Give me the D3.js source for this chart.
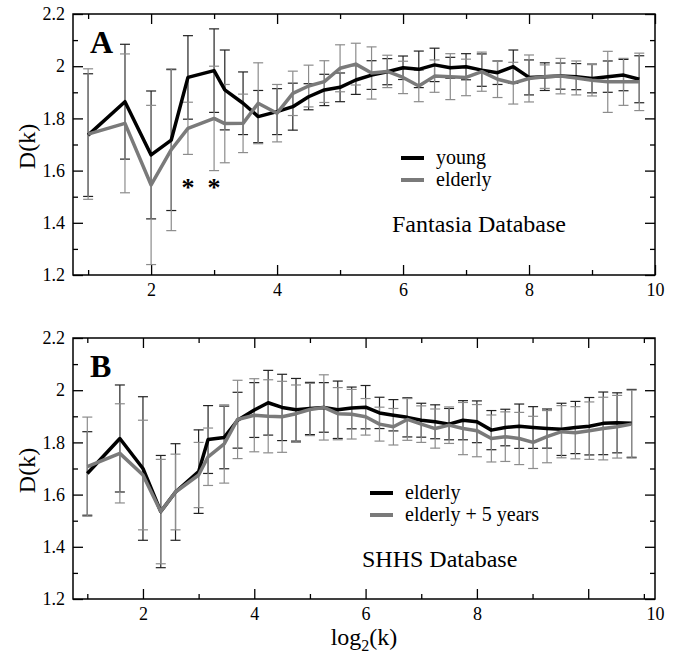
<!DOCTYPE html>
<html>
<head>
<meta charset="utf-8">
<script src="https://cdn.jsdelivr.net/npm/d3@7"></script>
<style>
    body { margin: 0; background: #fff; }
    svg { display: block; }
    text { font-family: "Liberation Serif", "Times New Roman", serif; fill: #000; }
</style>
</head>
<body>
<svg id="chart" width="673" height="653"></svg>
<script>
    "use strict";

    //Panel A - Fantasia database
    var xA = [1, 1.585, 2, 2.32, 2.585, 3, 3.17, 3.46, 3.7, 4, 4.25, 4.5, 4.75, 5, 5.25, 5.5, 5.75,
        6, 6.25, 6.5, 6.75, 7, 7.25, 7.5, 7.75, 8, 8.25, 8.5, 8.75, 9, 9.25, 9.5, 9.75];
    var youngMean = [1.736, 1.864, 1.66, 1.717, 1.957, 1.983, 1.909, 1.858, 1.807, 1.826, 1.845, 1.883, 1.909,
        1.919, 1.947, 1.966, 1.979, 1.994, 1.988, 2.005, 1.994, 1.998, 1.985, 1.975, 1.998, 1.957, 1.96,
        1.962, 1.96, 1.953, 1.96, 1.966, 1.95];
    var youngErr = [0.235, 0.22, 0.245, 0.27, 0.16, 0.16, 0.153, 0.12, 0.1, 0.088, 0.09, 0.05, 0.06,
        0.055, 0.055, 0.055, 0.05, 0.045, 0.07, 0.064, 0.04, 0.05, 0.062, 0.045, 0.064, 0.067, 0.053,
        0.05, 0.05, 0.055, 0.06, 0.06, 0.09];
    var elderlyMean = [1.74, 1.781, 1.545, 1.68, 1.762, 1.80, 1.78, 1.781, 1.858, 1.82, 1.896, 1.924, 1.941,
        1.992, 2.008, 1.974, 1.98, 1.957, 1.924, 1.962, 1.96, 1.957, 1.979, 1.95, 1.935, 1.953, 1.96,
        1.962, 1.955, 1.946, 1.94, 1.94, 1.94];
    var elderlyErr = [0.25, 0.266, 0.305, 0.31, 0.10, 0.2, 0.15, 0.112, 0.155, 0.11, 0.085, 0.08, 0.08,
        0.09, 0.08, 0.10, 0.062, 0.062, 0.06, 0.062, 0.088, 0.07, 0.075, 0.07, 0.08, 0.09, 0.045,
        0.068, 0.065, 0.06, 0.117, 0.09, 0.11];
    var starsA = [2.585, 3];

    //Panel B - SHHS database
    var xB = [1, 1.585, 2, 2.32, 2.585, 3, 3.17, 3.46, 3.7, 4, 4.25, 4.5, 4.75, 5, 5.25, 5.5, 5.75,
        6, 6.25, 6.5, 6.75, 7, 7.25, 7.5, 7.75, 8, 8.26, 8.51, 8.76, 9.01, 9.26, 9.52, 9.77, 10.02, 10.27, 10.52, 10.78];
    var shhsMean = [1.681, 1.815, 1.70, 1.535, 1.61, 1.688, 1.811, 1.819, 1.885, 1.924, 1.952, 1.934, 1.925,
        1.93, 1.934, 1.925, 1.932, 1.935, 1.913, 1.904, 1.896, 1.885, 1.879, 1.87, 1.885, 1.879, 1.847,
        1.857, 1.862, 1.857, 1.853, 1.85, 1.857, 1.862, 1.873, 1.875, 1.873];
    var shhsErr = [0.16, 0.205, 0.275, 0.215, 0.185, 0.16, 0.13, 0.12, 0.107, 0.105, 0.124, 0.127, 0.12,
        0.1, 0.095, 0.11, 0.08, 0.083, 0.06, 0.06, 0.075, 0.065, 0.065, 0.06, 0.075, 0.08, 0.075,
        0.07, 0.085, 0.08, 0.075, 0.1, 0.1, 0.11, 0.12, 0.115, 0.13];
    var shhs5Mean = [1.707, 1.758, 1.675, 1.535, 1.61, 1.675, 1.745, 1.794, 1.888, 1.904, 1.90, 1.898, 1.91,
        1.926, 1.934, 1.91, 1.908, 1.898, 1.87, 1.86, 1.888, 1.87, 1.853, 1.866, 1.853, 1.845, 1.815,
        1.822, 1.815, 1.80, 1.822, 1.841, 1.837, 1.845, 1.853, 1.86, 1.87];
    var shhs5Err = [0.19, 0.19, 0.21, 0.2, 0.145, 0.125, 0.11, 0.15, 0.15, 0.14, 0.14, 0.136, 0.11,
        0.1, 0.125, 0.1, 0.095, 0.07, 0.065, 0.07, 0.08, 0.07, 0.075, 0.07, 0.1, 0.1, 0.09,
        0.095, 0.1, 0.1, 0.1, 0.1, 0.1, 0.11, 0.12, 0.12, 0.13];

    //Ticks and labels
    var yMajor = [1.2, 1.4, 1.6, 1.8, 2, 2.2];
    var yMinor = [1.3, 1.5, 1.7, 1.9, 2.1];
    var yLabels = ["1.2", "1.4", "1.6", "1.8", "2", "2.2"];
    var xLabelPosA = [2, 4, 6, 8, 10];
    var xLabelPosB = [2, 4, 6, 8, 11.2];
    var xLabels = ["2", "4", "6", "8", "10"];

    var svg = d3.select("#chart");
    var left = 73, right = 655;
    var black = "#000", grey = "#7a7a7a";
    var serif = '"Liberation Serif", "Times New Roman", serif';

    function panel(p) {

        var g = svg.append("g");
        var x = d3.scaleLinear().domain(p.xDomain).range([left, right]);
        var y = d3.scaleLinear().domain([1.2, 2.2]).range([p.bottom, p.top]);

        var xMajor = d3.range(2, Math.floor(p.xDomain[1]) + 1, 2);
        var xMinor = d3.range(1, Math.floor(p.xDomain[1]) + 1, 2);

        //Inward ticks on all four sides
        function ticks(axis, vals, size, tr) {
            g.append("g").attr("transform", tr)
                .call(axis.tickValues(vals).tickSize(-size).tickFormat(""))
                .call(function (s) { s.select(".domain").remove(); })
                .selectAll("line").attr("stroke", "#000").attr("stroke-width", 1.3);
        }
        [[xMajor, 10], [xMinor, 5]].forEach(function (t) {
            ticks(d3.axisBottom(x), t[0], t[1], "translate(0," + p.bottom + ")");
            ticks(d3.axisTop(x), t[0], t[1], "translate(0," + p.top + ")");
        });
        [[yMajor, 10], [yMinor, 5]].forEach(function (t) {
            ticks(d3.axisLeft(y), t[0], t[1], "translate(" + left + ",0)");
            ticks(d3.axisRight(y), t[0], t[1], "translate(" + right + ",0)");
        });

        //Tick labels
        var ya = g.append("g").attr("transform", "translate(" + left + ",0)")
            .call(d3.axisLeft(y).tickValues(yMajor).tickSize(0).tickPadding(8)
                .tickFormat(function (d, i) { return yLabels[i]; }));
        var xa = g.append("g").attr("transform", "translate(0," + p.bottom + ")")
            .call(d3.axisBottom(x).tickValues(p.xLabelPos).tickSize(0).tickPadding(8)
                .tickFormat(function (d, i) { return xLabels[i]; }));
        [ya, xa].forEach(function (a) {
            a.select(".domain").remove();
            a.attr("font-family", serif).attr("font-size", 18);
            a.selectAll("text").style("font-family", serif).style("font-size", "18px");
        });

        //Error bars, black series first then grey on top
        p.series.forEach(function (s) {
            var bars = g.append("g").selectAll("g")
                .data(s.x.map(function (v, i) { return { x: v, m: s.mean[i], e: s.err[i] }; }))
                .join("g")
                .attr("stroke", s.barColour).attr("stroke-width", 1.2);
            bars.append("line")
                .attr("x1", function (d) { return x(d.x); }).attr("x2", function (d) { return x(d.x); })
                .attr("y1", function (d) { return y(d.m - d.e); }).attr("y2", function (d) { return y(d.m + d.e); });
            [-1, 1].forEach(function (sgn) {
                bars.append("line")
                    .attr("x1", function (d) { return x(d.x) - 5; }).attr("x2", function (d) { return x(d.x) + 5; })
                    .attr("y1", function (d) { return y(d.m + sgn * d.e); })
                    .attr("y2", function (d) { return y(d.m + sgn * d.e); });
            });
        });

        //Mean lines
        var line = d3.line().x(function (d) { return x(d[0]); }).y(function (d) { return y(d[1]); });
        p.series.forEach(function (s) {
            g.append("path")
                .datum(s.x.map(function (v, i) { return [v, s.mean[i]]; }))
                .attr("d", line)
                .attr("fill", "none")
                .attr("stroke", s.colour)
                .attr("stroke-width", 3.5)
                .attr("stroke-linejoin", "round");
        });

        //Frame
        g.append("rect")
            .attr("x", left).attr("y", p.top)
            .attr("width", right - left).attr("height", p.bottom - p.top)
            .attr("fill", "none").attr("stroke", "#000").attr("stroke-width", 1.5);

        //Panel letter
        g.append("text").attr("x", 90).attr("y", p.top + 39)
            .style("font-size", "32px").style("font-weight", "bold").text(p.letter);

        //Y title
        g.append("text")
            .attr("transform", "translate(35," + ((p.top + p.bottom) / 2 + 2) + ") rotate(-90)")
            .attr("text-anchor", "middle").style("font-size", "24px").text("D(k)");

        //Legend
        p.legend.forEach(function (l, i) {
            var ly = p.legendY + i * 22;
            g.append("line").attr("x1", p.legendX).attr("x2", p.legendX + 23)
                .attr("y1", ly).attr("y2", ly)
                .attr("stroke", l.colour).attr("stroke-width", 4);
            g.append("text").attr("x", p.legendX + 35).attr("y", ly + 6)
                .style("font-size", "20px").text(l.label);
        });
        g.append("text").attr("x", p.dbX).attr("y", p.dbY)
            .style("font-size", "24px").text(p.db);

        return { g: g, x: x, y: y };
    }

    var pA = panel({
        top: 14, bottom: 275, xDomain: [0.76, 10], xLabelPos: xLabelPosA, letter: "A",
        series: [
            { x: xA, mean: youngMean, err: youngErr, colour: black, barColour: "#222" },
            { x: xA, mean: elderlyMean, err: elderlyErr, colour: grey, barColour: "#8c8c8c" }
        ],
        legend: [{ label: "young", colour: black }, { label: "elderly", colour: grey }],
        legendX: 401, legendY: 158, db: "Fantasia Database", dbX: 392, dbY: 232
    });

    //Significance markers
    pA.g.selectAll(".star").data(starsA).join("text")
        .attr("x", function (d) { return pA.x(d); }).attr("y", 196)
        .attr("text-anchor", "middle")
        .style("font-size", "26px").style("font-weight", "bold").text("*");

    panel({
        top: 338, bottom: 599, xDomain: [0.743, 11.2], xLabelPos: xLabelPosB, letter: "B",
        series: [
            { x: xB, mean: shhsMean, err: shhsErr, colour: black, barColour: "#222" },
            { x: xB, mean: shhs5Mean, err: shhs5Err, colour: grey, barColour: "#8c8c8c" }
        ],
        legend: [{ label: "elderly", colour: black }, { label: "elderly + 5 years", colour: grey }],
        legendX: 370, legendY: 493, db: "SHHS Database", dbX: 362, dbY: 567
    });

    //X title
    var xt = svg.append("text").attr("x", 364).attr("y", 645)
        .attr("text-anchor", "middle").style("font-size", "24px");
    xt.append("tspan").text("log");
    xt.append("tspan").attr("dy", 6).style("font-size", "16px").text("2");
    xt.append("tspan").attr("dy", -6).text("(k)");
</script>
</body>
</html>
